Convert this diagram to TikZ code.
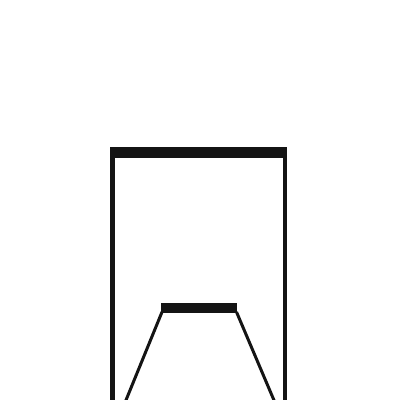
\documentclass[tikz,border=0pt]{standalone}
\begin{document}
\begin{tikzpicture}[x=0.01cm,y=-0.01cm,
  barfill/.style={fill=black!92},
  legline/.style={draw=black!92,line width=0.03cm}]
\useasboundingbox (0,0) rectangle (400,400);
\clip (0,0) rectangle (400,400);
% outer frame
\fill[barfill] (110,147) rectangle (287,158);
\fill[barfill] (110,147) rectangle (115,410);
\fill[barfill] (282.5,147) rectangle (287,410);
% inner trapezoid
\fill[barfill] (161,302.5) rectangle (237,313);
\draw[legline] (162,312) -- (124,405);
\draw[legline] (236.5,312) -- (276,405);
\end{tikzpicture}
\end{document}
